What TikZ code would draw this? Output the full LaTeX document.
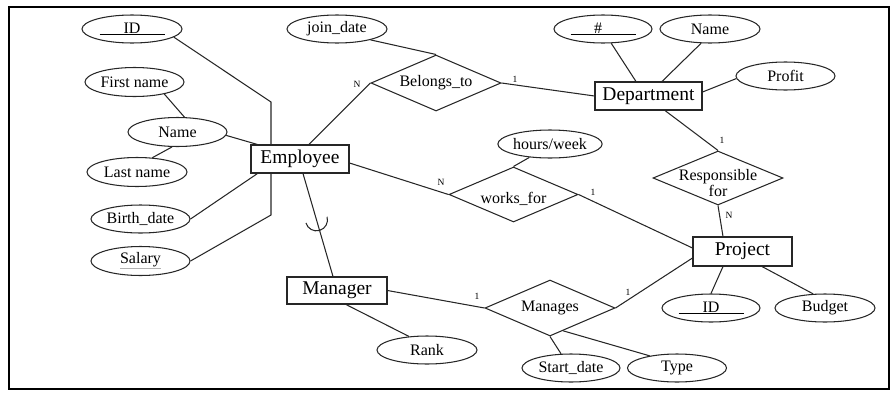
\documentclass[tikz,border=0pt]{standalone}
\usepackage{fontspec}
\setmainfont{Liberation Serif}
\usetikzlibrary{shapes.geometric,calc}
\begin{document}
\begin{tikzpicture}[x=1pt,y=-1pt,
  conn/.style={draw=black!85, line width=1.05pt},
  attr/.style={ellipse, draw=black!85, line width=1.05pt, minimum width=99pt, minimum height=28pt, inner sep=0pt, font=\fontsize{16}{18}\selectfont},
  ent/.style={rectangle, draw=black!85, line width=1.05pt, minimum height=28pt, inner sep=0pt, font=\fontsize{19.5}{22}\selectfont},
  rel/.style={diamond, draw=black!85, line width=1.05pt, minimum width=130pt, minimum height=56pt, inner sep=0pt},
  reltext/.style={font=\fontsize{16}{14}\selectfont, align=center},
  card/.style={font=\fontsize{9.5}{10}\selectfont, inner sep=0pt}]
\useasboundingbox (0,0) rectangle (895,394);
\draw[line width=2.6pt] (9,7) rectangle (889,389);

% entities
\node[ent, minimum width=98pt] (emp) at (300,159) {Employee};
\node[ent, minimum width=107pt] (dept) at (648.5,96) {Department};
\node[ent, minimum width=99pt, minimum height=29pt] (proj) at (742.5,251.5) {Project};
\node[ent, minimum width=100pt, minimum height=27pt] (mgr) at (337,290.5) {Manager};

% relationships
\node[rel, label={[reltext]center:Belongs\_to}] (bel) at (436,83) {};
\node[rel, minimum width=129pt, minimum height=55pt, label={[reltext, yshift=-4pt]center:works\_for}] (works) at (513.5,194.5) {};
\node[rel, minimum height=54pt, label={[reltext, yshift=-5pt]center:Responsible\\for}] (resp) at (718,178) {};
\node[rel, label={[reltext]center:Manages}] (man) at (550,308) {};

% attributes
\node[attr, minimum width=100pt] (idE) at (132,29) {\underline{\makebox[65pt]{ID}}};
\node[attr, minimum height=29pt] (fname) at (134.5,82) {First name};
\node[attr, minimum height=29pt] (name) at (177.5,132) {Name};
\node[attr, minimum width=100pt, minimum height=29pt] (lname) at (137,172) {Last name};
\node[attr] (birth) at (140.5,219) {Birth\_date};
\node[attr, minimum height=29pt] (sal) at (140.5,261) {\textcolor{black!30}{\underline{\textcolor{black}{Salary}}}};
\node[attr, minimum width=100pt] (join) at (337,29) {join\_date};
\node[attr, minimum width=98pt] (hash) at (603,29) {\underline{\makebox[65pt]{\hspace{-10pt}\#}}};
\node[attr, minimum width=100pt] (dname) at (710,29) {Name};
\node[attr] (profit) at (785.5,76) {Profit};
\node[attr, minimum width=98pt] (hours) at (550,144) {hours/week};
\node[attr, minimum width=98pt] (pid) at (711,308) {\underline{\makebox[65pt]{ID}}};
\node[attr, minimum width=100pt] (budget) at (825,308) {Budget};
\node[attr, minimum width=100pt] (rank) at (427,350) {Rank};
\node[attr, minimum width=98pt] (start) at (571,368) {Start\_date};
\node[attr] (type) at (677,368) {Type};

% bend points
\coordinate (idbend) at (271,102);
\coordinate (salbend) at (271,215);
\coordinate (e2m1) at ([xshift=3pt]emp.south);
\coordinate (e2m2) at ([xshift=-4pt]mgr.north);
\coordinate (cupc) at ($(e2m1)!0.45!(e2m2)$);
\coordinate (typefoot) at ($(man.south)!0.2!(man.east)$);

% connectors
\draw[conn] (idE.-11) -- (idbend) -- (idbend |- emp.north);
\draw[conn] (fname.-22) -- (name.65);
\draw[conn] (name.-110) -- (lname.43);
\draw[conn] (name.-4) -- ([xshift=7pt]emp.north west);
\draw[conn] (birth.east) -- ([xshift=7pt]emp.south west);
\draw[conn] (sal.east) -- (salbend) -- (salbend |- emp.south);
\draw[conn] ([xshift=9pt]emp.north) -- (bel.west);
\draw[conn] (join.-18) -- (bel.north);
\draw[conn] (bel.east) -- (dept.west);
\draw[conn] (hash.-60) -- ([xshift=-12.5pt]dept.north);
\draw[conn] (dname.-122) -- ([xshift=13.5pt]dept.north);
\draw[conn] (profit.183) -- ([yshift=4pt]dept.east);
\draw[conn] ([xshift=16.5pt]dept.south) -- (resp.north);
\draw[conn] (resp.south) -- ([xshift=-19.5pt]proj.north);
\draw[conn] ([xshift=-19.5pt]proj.south) -- (pid.north);
\draw[conn] ([xshift=19.5pt]proj.south) -- (budget.130);
\draw[conn] ([yshift=-4pt]emp.east) -- (works.west);
\draw[conn] (hours.-147) -- (works.north);
\draw[conn] (works.east) -- ([yshift=3.5pt]proj.west);
\draw[conn] (e2m1) -- (e2m2);
\draw[conn] (cupc) ++(-163.6:11pt) arc[start angle=-163.6, end angle=16.4, radius=11pt];
\draw[conn] ([xshift=9pt]mgr.south) -- (rank.143);
\draw[conn] (mgr.east) -- (man.west);
\draw[conn] (man.east) -- ([yshift=-6.5pt]proj.west);
\draw[conn] (man.south) -- (start.125);
\draw[conn] (typefoot) -- (type.156);

% cardinalities
\node[card] (c1) at (357,84) {N};
\node[card] (c2) at (515,79) {1};
\node[card] (c3) at (722,140) {1};
\node[card] (c4) at (729,215) {N};
\node[card] (c5) at (441,182) {N};
\node[card] (c6) at (593,192) {1};
\node[card] (c7) at (477,296) {1};
\node[card] (c8) at (628,292) {1};
\end{tikzpicture}
\end{document}
